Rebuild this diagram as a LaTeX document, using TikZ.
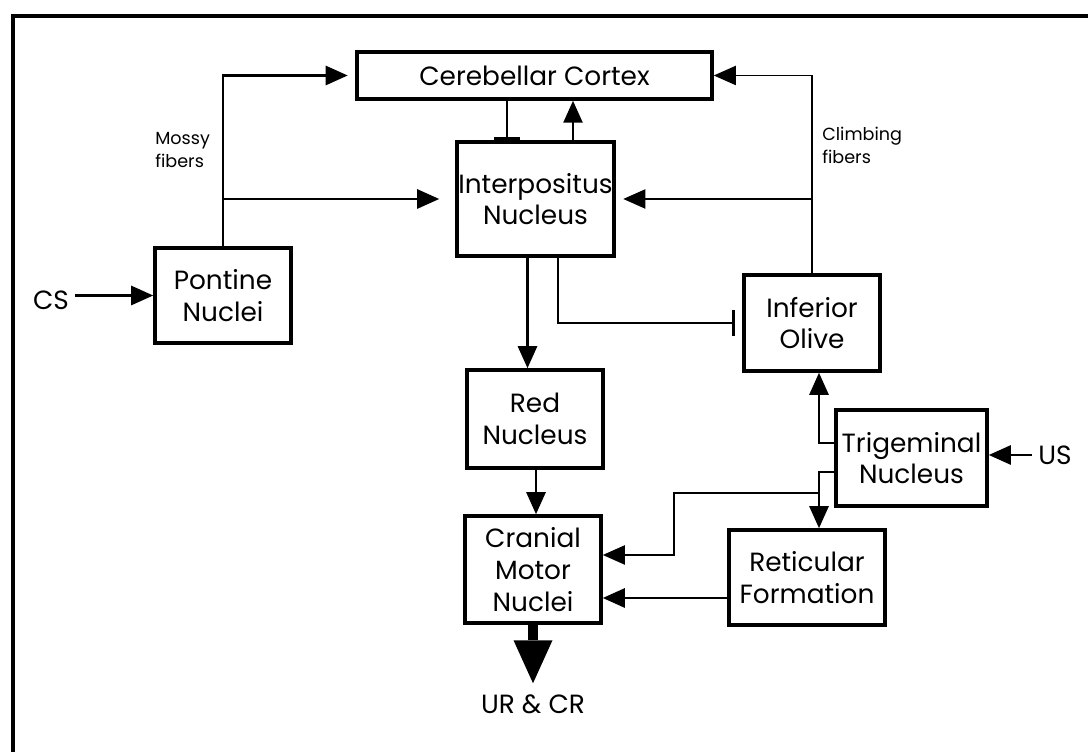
\documentclass[tikz,border=0pt]{standalone}
\usepackage{fontspec}
\setmainfont{Poppins}
\usetikzlibrary{positioning, calc, arrows.meta}

\begin{document}
\begin{tikzpicture}[
  font=\fontsize{15}{18}\selectfont,
  >={Triangle[length=0.44cm,width=0.38cm]},
  box/.style={draw, line width=2pt, align=center, inner sep=0pt},
  conn/.style={line width=1.5pt},
  thin/.style={line width=1.1pt},
  inhib/.style={line width=1.1pt, -{Bar[width=0.52cm,line width=2pt]}},
  note/.style={font=\fontsize{10}{13}\selectfont, align=left, inner sep=0pt},
]
\useasboundingbox (0,0) rectangle (21.76,15.04);

% page frame (only top and left edges show)
\draw[line width=2pt] (0.26,0) -- (0.26,14.72) -- (21.76,14.72);

% =====================================================================
% Boxes
% =====================================================================
\node[box, minimum width=7.10cm, minimum height=0.94cm] (cortex)  at (10.69,13.53) {Cerebellar Cortex};
\node[box, minimum width=3.14cm, minimum height=2.28cm] (interp)  at (10.71,11.06) {Interpositus\\Nucleus};
\node[box, minimum width=2.72cm, minimum height=1.90cm] (pontine) at (4.46,9.13)   {Pontine\\Nuclei};
\node[box, minimum width=2.72cm, minimum height=1.92cm] (olive)   at (16.24,8.58)  {Inferior\\Olive};
\node[box, minimum width=2.72cm, minimum height=1.96cm] (red)     at (10.70,6.66)  {Red\\Nucleus};
\node[box, minimum width=2.72cm, minimum height=2.14cm] (cranial) at (10.66,3.65)  {Cranial\\Motor\\Nuclei};
\node[box, minimum width=3.02cm, minimum height=1.92cm] (trigem)  at (18.23,5.88)  {Trigeminal\\Nucleus};
\node[box, minimum width=3.12cm, minimum height=1.90cm] (retic)   at (16.14,3.49)  {Reticular\\Formation};

% inputs / output
\node (cs)  at (1.02,9.04)  {CS};
\node (us)  at (21.10,5.94) {US};
\node (ucr) at (10.66,0.96) {UR \& CR};

% fiber labels
\node[note, anchor=west] (mossy) at (3.10,12.04)  {Mossy\\fibers};
\node[note, anchor=west] (climb) at (16.44,12.14) {Climbing\\fibers};

% =====================================================================
% Mossy fibers (pontine -> cortex, interpositus)
% =====================================================================
\draw[conn, ->] (cs.east |- pontine) -- (pontine.west);
\draw[conn, ->, shorten >=0.15cm] (pontine.north) |- (cortex.west);
\draw[conn, ->, shorten >=0.32cm] (pontine.north |- interp.west) -- (interp.west);

% cortex <-> interpositus
\draw[inhib] ([xshift=-0.57cm]interp.north |- cortex.south) -- ([xshift=-0.57cm]interp.north);
\draw[conn, ->] ([xshift=0.75cm]interp.north) -- ([xshift=0.75cm]interp.north |- cortex.south);

% =====================================================================
% Climbing fibers (olive -> cortex, interpositus)
% =====================================================================
\draw[thin, ->] (olive.north) |- (cortex.east);
\draw[thin, ->, shorten >=0.15cm] (olive.north |- interp.east) -- (interp.east);

% interpositus -> red, olive
\draw[conn, ->] ([xshift=-0.16cm]interp.south) -- ([xshift=-0.16cm]interp.south |- red.north);
\draw[inhib, shorten >=0.14cm] ([xshift=0.45cm]interp.south) |- (olive.west);

% red -> cranial -> response
\draw[conn, ->] ([xshift=0.02cm]red.south) -- ([xshift=0.02cm]red.south |- cranial.north);
\draw[line width=0.2cm, -{Triangle[length=0.86cm,width=0.78cm,line width=0pt]}]
  (cranial.south) -- ([yshift=0.1cm]ucr.north);

% =====================================================================
% Trigeminal outputs
% =====================================================================
\draw[conn, ->] (us.west) -- (us.west -| trigem.east);
\draw[conn, ->] ([yshift=0.30cm]trigem.west) -| ([xshift=0.14cm]olive.south);
\draw[conn, ->] ([yshift=-0.28cm]trigem.west) -| ([xshift=0.24cm]retic.north);
\coordinate (split) at ([xshift=0.24cm]retic.north |- 0,5.18);
\coordinate (bend)  at (13.48,5.18);
\draw[thin, ->] (split) -- (bend) |- ([yshift=0.29cm]cranial.east);
\draw[conn, ->] ([yshift=-0.41cm]retic.west) -- ([yshift=-0.41cm]retic.west -| cranial.east);

\end{tikzpicture}
\end{document}
